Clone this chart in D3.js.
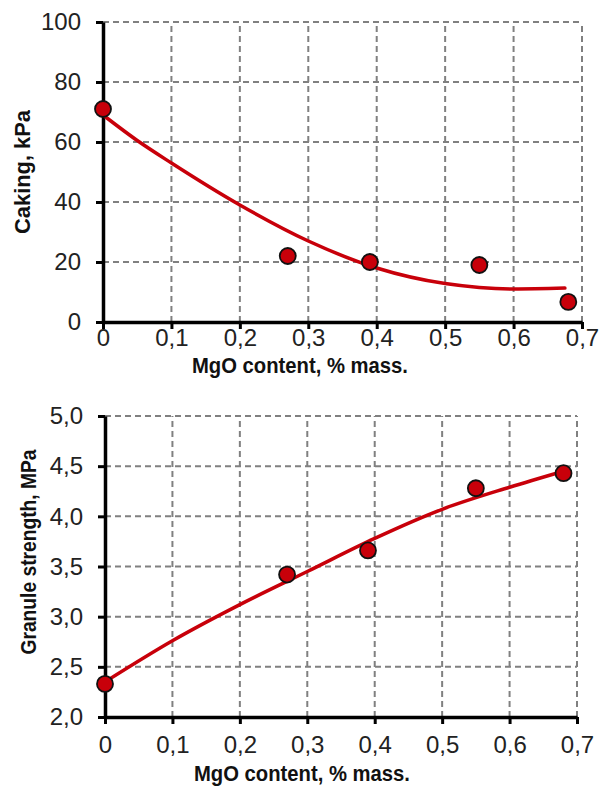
<!DOCTYPE html>
<html><head><meta charset="utf-8">
<script src="https://cdn.jsdelivr.net/npm/d3@7"></script>
<style>
body{margin:0;background:#fff;}
svg text{font-family:"Liberation Sans Narrow","Arial Narrow","Liberation Sans",Arial,sans-serif;}
</style></head>
<body><svg id="c" width="600" height="787"></svg>
<script>
const mgo = [0, 0.27, 0.39, 0.55, 0.68];
const caking = [71, 22, 20, 19, 6.7];
const strength = [2.33, 3.42, 3.66, 4.28, 4.43];
const cakingTrendX = [0, 0.05, 0.1, 0.2, 0.3, 0.4, 0.5, 0.55, 0.6, 0.675];
const cakingTrendY = [69, 60.5, 53, 39, 27, 18, 12.8, 11.5, 11, 11.3];
const strengthTrendX = [0, 0.1, 0.2, 0.3, 0.4, 0.5, 0.6, 0.68];
const strengthTrendY = [2.35, 2.76, 3.12, 3.45, 3.78, 4.07, 4.29, 4.45];
const xTicks = [0, 0.1, 0.2, 0.3, 0.4, 0.5, 0.6, 0.7];
const cakingTicks = [0, 20, 40, 60, 80, 100];
const strengthTicks = [2.0, 2.5, 3.0, 3.5, 4.0, 4.5, 5.0];
const xTitle = "MgO content, % mass.";
const cakingTitle = "Caking, kPa";
const strengthTitle = "Granule strength, MPa";

const svg = d3.select("#c");
const red = "#c8000a";

function panel(o){
  const x = d3.scaleLinear().domain([0,0.7]).range([o.x0,o.x1]);
  const y = d3.scaleLinear().domain(o.ydom).range([o.y0,o.y1]);
  const g = svg.append("g");
  g.selectAll(".vg").data(xTicks.filter(d=>d>0)).join("line")
    .attr("x1",d=>x(d)).attr("x2",d=>x(d)).attr("y1",o.y0).attr("y2",o.y1)
    .attr("stroke","#808080").attr("stroke-width",2).attr("stroke-dasharray","6,4");
  g.selectAll(".hg").data(o.ticks.filter(d=>d>o.ydom[0])).join("line")
    .attr("x1",o.x0).attr("x2",o.x1).attr("y1",d=>y(d)).attr("y2",d=>y(d))
    .attr("stroke","#808080").attr("stroke-width",2).attr("stroke-dasharray","6,4");
  const fx = d=> d===0 ? "0" : d3.format(".1f")(d).replace(".",",");
  const xa = g.append("g").attr("transform",`translate(0,${o.y0})`)
    .call(d3.axisBottom(x).tickValues(xTicks).tickFormat(fx).tickSize(7).tickSizeOuter(0).tickPadding(o.xpad));
  const ya = g.append("g").attr("transform",`translate(${o.x0},0)`)
    .call(d3.axisLeft(y).tickValues(o.ticks).tickFormat(o.yfmt).tickSize(7).tickSizeOuter(0).tickPadding(15));
  [xa,ya].forEach(a=>{
    a.select(".domain").attr("stroke","#000").attr("stroke-width",3.5);
    a.selectAll(".tick line").attr("stroke","#000").attr("stroke-width",3);
    a.selectAll(".tick text").attr("fill","#222").style("font-size","24px");
  });
  const line = d3.line().x(d=>x(d[0])).y(d=>y(d[1])).curve(d3.curveMonotoneX);
  g.append("path").datum(d3.zip(o.tx,o.ty)).attr("d",line)
    .attr("fill","none").attr("stroke",red).attr("stroke-width",3.5).attr("stroke-linecap","round");
  g.selectAll("circle").data(d3.zip(mgo,o.vals)).join("circle")
    .attr("cx",d=>x(d[0])).attr("cy",d=>y(d[1])).attr("r",8)
    .attr("fill",red).attr("stroke","#111").attr("stroke-width",1.8);
  g.append("text").attr("x",o.xtx).attr("y",o.xty).attr("text-anchor","middle")
    .attr("font-weight","bold").style("font-size","22px").attr("fill","#111")
    .attr("textLength",216).attr("lengthAdjust","spacingAndGlyphs").text(xTitle);
  g.append("text").attr("transform",`translate(${o.ytx},${o.yty}) rotate(-90)`)
    .attr("text-anchor","middle").attr("dy","0.35em")
    .attr("font-weight","bold").style("font-size","22px").attr("fill","#111")
    .attr("textLength",o.ylen).attr("lengthAdjust","spacingAndGlyphs").text(o.ytitle);
}

panel({x0:103,x1:582,y0:322,y1:22,ydom:[0,100],ticks:cakingTicks,yfmt:d3.format("d"),
  vals:caking,tx:cakingTrendX,ty:cakingTrendY,xpad:0,xtx:300,xty:373,ytx:22,yty:172,ylen:124,ytitle:cakingTitle});
panel({x0:105,x1:577,y0:717,y1:416,ydom:[2,5],ticks:strengthTicks,yfmt:d=>d3.format(".1f")(d).replace(".",","),
  vals:strength,tx:strengthTrendX,ty:strengthTrendY,xpad:12,xtx:302,xty:781,ytx:28,yty:552,ylen:205,ytitle:strengthTitle});
</script></body></html>
